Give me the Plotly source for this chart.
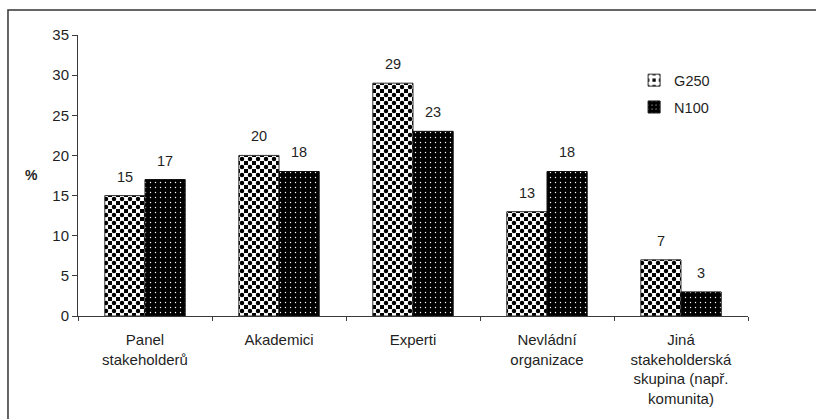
import plotly.graph_objects as go

# Survey data: share of companies (%) engaging each stakeholder type
categories = [
    "Panel<br>stakeholderů",
    "Akademici",
    "Experti",
    "Nevládní<br>organizace",
    "Jiná<br>stakeholderská<br>skupina (např.<br>komunita)",
]
g250 = [15, 20, 29, 13, 7]
n100 = [17, 18, 23, 18, 3]
y_ticks = [0, 5, 10, 15, 20, 25, 30, 35]

FONT = "Liberation Sans, Arial, sans-serif"
TEXT = "#1f1f1f"
AXIS = "#3a3a3a"
CELL = 8  # checker tile size (two 4px cells)

fig = go.Figure()

# G250: checkerboard = black tile-corner squares + black centre dots
fig.add_trace(go.Bar(
    name="G250", legendgroup="g", offsetgroup="g",
    x=categories, y=g250,
    marker=dict(
        color="black",
        line=dict(color="#333333", width=1),
        pattern=dict(shape="+", fgcolor="white", bgcolor="black",
                     size=CELL, solidity=0.75, fillmode="replace"),
    ),
))
fig.add_trace(go.Bar(
    name="G250", legendgroup="g", offsetgroup="g", showlegend=False,
    x=categories, y=g250, hoverinfo="skip",
    marker=dict(
        color="rgba(0,0,0,0)",
        line=dict(width=0),
        pattern=dict(shape=".", fgcolor="black", bgcolor="rgba(0,0,0,0)",
                     size=CELL, solidity=0.25, fillmode="replace"),
    ),
))
# N100: black with fine white dots
fig.add_trace(go.Bar(
    name="N100", legendgroup="n", offsetgroup="n",
    x=categories, y=n100,
    marker=dict(
        color="black",
        line=dict(color="#111111", width=1),
        pattern=dict(shape=".", fgcolor="white", bgcolor="black",
                     size=5, solidity=0.06, fillmode="replace"),
    ),
))

# Value labels above each bar
half = 20  # half bar width in px
for i, c in enumerate(categories):
    for vals, dx in ((g250, -half), (n100, half)):
        fig.add_annotation(
            x=c, y=vals[i], text=str(vals[i]), showarrow=False,
            xshift=dx, yshift=9, yanchor="bottom",
            font=dict(family=FONT, size=14.5, color=TEXT),
        )

# y-axis title drawn horizontally
fig.add_annotation(
    xref="paper", yref="paper", x=-0.0687, y=0.502, text="<b>%</b>",
    xanchor="center", yanchor="middle",
    showarrow=False, font=dict(family=FONT, size=14, color=TEXT),
)

# outer frame
fig.add_shape(
    type="rect", xref="paper", yref="paper",
    x0=-0.1045, x1=1.12, y0=-0.40, y1=1.089,
    line=dict(color="#333333", width=1.5), fillcolor="rgba(0,0,0,0)",
    layer="below",
)

fig.update_layout(
    width=816, height=419,
    margin=dict(l=78, r=68, t=35, b=103),
    paper_bgcolor="white", plot_bgcolor="white",
    barmode="group", bargap=0.4, bargroupgap=0,
    font=dict(family=FONT, size=15, color=TEXT),
    showlegend=True,
    legend=dict(
        x=0.83, y=0.896, xanchor="left", yanchor="top",
        bgcolor="rgba(0,0,0,0)", font=dict(family=FONT, size=14.5, color=TEXT),
        itemwidth=30, traceorder="grouped", tracegroupgap=5,
    ),
    xaxis=dict(
        showline=True, linecolor=AXIS, linewidth=1,
        ticks="outside", tickson="boundaries", ticklen=4, tickcolor=AXIS,
        showgrid=False, zeroline=False, ticklabelstandoff=10,
        tickfont=dict(family=FONT, size=15, color=TEXT),
    ),
    yaxis=dict(
        range=[0, 35], tickvals=y_ticks,
        showline=True, linecolor=AXIS, linewidth=1,
        ticks="outside", ticklen=5, tickcolor=AXIS,
        showgrid=False, zeroline=False,
        tickfont=dict(family=FONT, size=15, color=TEXT),
    ),
)

fig.write_html("out.html")
